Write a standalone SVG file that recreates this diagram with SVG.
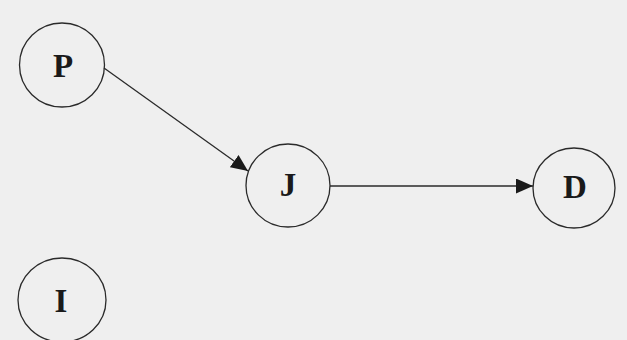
<svg xmlns="http://www.w3.org/2000/svg" width="627" height="340" viewBox="0 0 627 340">
<style>
.node ellipse{fill:none;stroke:#2a2a2a;stroke-width:1.3}
.node text{font-family:"Liberation Serif",serif;font-weight:bold;font-size:33px;fill:#1a1a1a;text-anchor:middle}
.edge{stroke:#2a2a2a;stroke-width:1.3;fill:none;marker-end:url(#ah)}
</style>
<defs>
<marker id="ah" viewBox="0 0 17 15" refX="17" refY="7.5" markerWidth="17" markerHeight="15" markerUnits="userSpaceOnUse" orient="auto">
<path d="M0,0 L17,7.5 L0,15 Z" fill="#1a1a1a"/>
</marker>
</defs>
<rect x="0" y="0" width="627" height="340" fill="#efefef"/>
<g id="connectors">
<line class="edge" x1="104" y1="68" x2="248" y2="171"/>
<line class="edge" x1="330" y1="186" x2="533" y2="186"/>
</g>
<g id="node-P" class="node">
<ellipse cx="62" cy="65" rx="42.5" ry="42"/>
<text x="63" y="77">P</text>
</g>
<g id="node-J" class="node">
<ellipse cx="288" cy="185.5" rx="42" ry="41.5"/>
<text x="288" y="196">J</text>
</g>
<g id="node-D" class="node">
<ellipse cx="574" cy="188" rx="41" ry="40"/>
<text x="575" y="198">D</text>
</g>
<g id="node-I" class="node">
<ellipse cx="62" cy="300" rx="44" ry="42"/>
<text x="61" y="312">I</text>
</g>
</svg>
